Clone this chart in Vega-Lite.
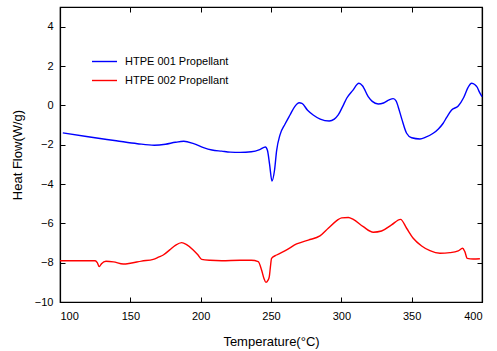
{
  "$schema": "https://vega.github.io/schema/vega-lite/v6.json",
  "width": 422,
  "height": 295,
  "autosize": {"type": "none"},
  "padding": {"left": 60, "top": 7, "right": 15, "bottom": 49},
  "background": "white",
  "config": {
    "view": {"stroke": "black", "strokeWidth": 1.2},
    "font": "Liberation Sans",
    "axis": {"grid": false, "domainColor": "black", "tickColor": "black", "labelColor": "black", "titleColor": "black", "labelFont": "Liberation Sans", "titleFont": "Liberation Sans", "labelFontSize": 11, "titleFontSize": 13, "titleFontWeight": "normal", "tickSize": -5, "domainWidth": 1.2, "tickWidth": 1}
  },
  "data": {"values": [
    {"series":"HTPE 001 Propellant","T":102,"HF":-1.40},
    {"series":"HTPE 001 Propellant","T":120,"HF":-1.6},
    {"series":"HTPE 001 Propellant","T":140,"HF":-1.8},
    {"series":"HTPE 001 Propellant","T":155,"HF":-1.95},
    {"series":"HTPE 001 Propellant","T":167,"HF":-2.03},
    {"series":"HTPE 001 Propellant","T":175,"HF":-1.98},
    {"series":"HTPE 001 Propellant","T":182,"HF":-1.88},
    {"series":"HTPE 001 Propellant","T":188,"HF":-1.83},
    {"series":"HTPE 001 Propellant","T":195,"HF":-1.95},
    {"series":"HTPE 001 Propellant","T":202,"HF":-2.15},
    {"series":"HTPE 001 Propellant","T":208,"HF":-2.27},
    {"series":"HTPE 001 Propellant","T":215,"HF":-2.33},
    {"series":"HTPE 001 Propellant","T":221,"HF":-2.38},
    {"series":"HTPE 001 Propellant","T":228,"HF":-2.39},
    {"series":"HTPE 001 Propellant","T":236,"HF":-2.36},
    {"series":"HTPE 001 Propellant","T":242,"HF":-2.25},
    {"series":"HTPE 001 Propellant","T":246,"HF":-2.12},
    {"series":"HTPE 001 Propellant","T":247.5,"HF":-2.3},
    {"series":"HTPE 001 Propellant","T":249,"HF":-3.0},
    {"series":"HTPE 001 Propellant","T":250.7,"HF":-3.85},
    {"series":"HTPE 001 Propellant","T":252.5,"HF":-3.3},
    {"series":"HTPE 001 Propellant","T":254,"HF":-2.3},
    {"series":"HTPE 001 Propellant","T":256.4,"HF":-1.5},
    {"series":"HTPE 001 Propellant","T":260,"HF":-0.95},
    {"series":"HTPE 001 Propellant","T":263.5,"HF":-0.49},
    {"series":"HTPE 001 Propellant","T":267,"HF":-0.05},
    {"series":"HTPE 001 Propellant","T":270,"HF":0.13},
    {"series":"HTPE 001 Propellant","T":272,"HF":0.1},
    {"series":"HTPE 001 Propellant","T":276,"HF":-0.25},
    {"series":"HTPE 001 Propellant","T":280,"HF":-0.49},
    {"series":"HTPE 001 Propellant","T":285,"HF":-0.7},
    {"series":"HTPE 001 Propellant","T":291.4,"HF":-0.8},
    {"series":"HTPE 001 Propellant","T":295,"HF":-0.7},
    {"series":"HTPE 001 Propellant","T":297.8,"HF":-0.49},
    {"series":"HTPE 001 Propellant","T":301,"HF":-0.05},
    {"series":"HTPE 001 Propellant","T":303.8,"HF":0.36},
    {"series":"HTPE 001 Propellant","T":308,"HF":0.75},
    {"series":"HTPE 001 Propellant","T":312.5,"HF":1.12},
    {"series":"HTPE 001 Propellant","T":315,"HF":1.0},
    {"series":"HTPE 001 Propellant","T":319.1,"HF":0.44},
    {"series":"HTPE 001 Propellant","T":322,"HF":0.2},
    {"series":"HTPE 001 Propellant","T":326.2,"HF":0.07},
    {"series":"HTPE 001 Propellant","T":330,"HF":0.12},
    {"series":"HTPE 001 Propellant","T":334,"HF":0.28},
    {"series":"HTPE 001 Propellant","T":336.9,"HF":0.34},
    {"series":"HTPE 001 Propellant","T":339,"HF":0.22},
    {"series":"HTPE 001 Propellant","T":340.4,"HF":-0.07},
    {"series":"HTPE 001 Propellant","T":343,"HF":-0.7},
    {"series":"HTPE 001 Propellant","T":346.4,"HF":-1.42},
    {"series":"HTPE 001 Propellant","T":350,"HF":-1.65},
    {"series":"HTPE 001 Propellant","T":355.9,"HF":-1.71},
    {"series":"HTPE 001 Propellant","T":360,"HF":-1.62},
    {"series":"HTPE 001 Propellant","T":365.3,"HF":-1.42},
    {"series":"HTPE 001 Propellant","T":369,"HF":-1.2},
    {"series":"HTPE 001 Propellant","T":372.4,"HF":-0.91},
    {"series":"HTPE 001 Propellant","T":375,"HF":-0.6},
    {"series":"HTPE 001 Propellant","T":378.4,"HF":-0.24},
    {"series":"HTPE 001 Propellant","T":383.1,"HF":-0.03},
    {"series":"HTPE 001 Propellant","T":387,"HF":0.4},
    {"series":"HTPE 001 Propellant","T":390,"HF":0.9},
    {"series":"HTPE 001 Propellant","T":392.6,"HF":1.12},
    {"series":"HTPE 001 Propellant","T":395,"HF":1.05},
    {"series":"HTPE 001 Propellant","T":396.6,"HF":0.92},
    {"series":"HTPE 001 Propellant","T":398,"HF":0.7},
    {"series":"HTPE 001 Propellant","T":400,"HF":0.44},
    {"series":"HTPE 002 Propellant","T":100,"HF":-7.9},
    {"series":"HTPE 002 Propellant","T":110,"HF":-7.9},
    {"series":"HTPE 002 Propellant","T":120,"HF":-7.9},
    {"series":"HTPE 002 Propellant","T":125,"HF":-7.9},
    {"series":"HTPE 002 Propellant","T":126.5,"HF":-8.0},
    {"series":"HTPE 002 Propellant","T":127.9,"HF":-8.2},
    {"series":"HTPE 002 Propellant","T":129.5,"HF":-8.05},
    {"series":"HTPE 002 Propellant","T":132.7,"HF":-7.93},
    {"series":"HTPE 002 Propellant","T":138,"HF":-7.96},
    {"series":"HTPE 002 Propellant","T":145,"HF":-8.07},
    {"series":"HTPE 002 Propellant","T":150,"HF":-8.03},
    {"series":"HTPE 002 Propellant","T":158,"HF":-7.92},
    {"series":"HTPE 002 Propellant","T":166.3,"HF":-7.83},
    {"series":"HTPE 002 Propellant","T":170,"HF":-7.72},
    {"series":"HTPE 002 Propellant","T":173.4,"HF":-7.61},
    {"series":"HTPE 002 Propellant","T":178,"HF":-7.35},
    {"series":"HTPE 002 Propellant","T":182,"HF":-7.12},
    {"series":"HTPE 002 Propellant","T":186.5,"HF":-6.98},
    {"series":"HTPE 002 Propellant","T":190,"HF":-7.08},
    {"series":"HTPE 002 Propellant","T":194.7,"HF":-7.35},
    {"series":"HTPE 002 Propellant","T":198,"HF":-7.6},
    {"series":"HTPE 002 Propellant","T":200.7,"HF":-7.83},
    {"series":"HTPE 002 Propellant","T":206.6,"HF":-7.88},
    {"series":"HTPE 002 Propellant","T":215,"HF":-7.9},
    {"series":"HTPE 002 Propellant","T":228,"HF":-7.88},
    {"series":"HTPE 002 Propellant","T":236,"HF":-7.88},
    {"series":"HTPE 002 Propellant","T":240.9,"HF":-7.95},
    {"series":"HTPE 002 Propellant","T":243.3,"HF":-8.37},
    {"series":"HTPE 002 Propellant","T":245,"HF":-8.8},
    {"series":"HTPE 002 Propellant","T":246.4,"HF":-9.0},
    {"series":"HTPE 002 Propellant","T":247.8,"HF":-8.9},
    {"series":"HTPE 002 Propellant","T":248.8,"HF":-8.71},
    {"series":"HTPE 002 Propellant","T":249.6,"HF":-8.2},
    {"series":"HTPE 002 Propellant","T":250.4,"HF":-7.78},
    {"series":"HTPE 002 Propellant","T":254,"HF":-7.61},
    {"series":"HTPE 002 Propellant","T":261.1,"HF":-7.35},
    {"series":"HTPE 002 Propellant","T":268.2,"HF":-7.05},
    {"series":"HTPE 002 Propellant","T":276.5,"HF":-6.85},
    {"series":"HTPE 002 Propellant","T":284.8,"HF":-6.64},
    {"series":"HTPE 002 Propellant","T":290.7,"HF":-6.25},
    {"series":"HTPE 002 Propellant","T":296.7,"HF":-5.86},
    {"series":"HTPE 002 Propellant","T":300.2,"HF":-5.72},
    {"series":"HTPE 002 Propellant","T":305,"HF":-5.7},
    {"series":"HTPE 002 Propellant","T":308.5,"HF":-5.8},
    {"series":"HTPE 002 Propellant","T":315.6,"HF":-6.17},
    {"series":"HTPE 002 Propellant","T":322.7,"HF":-6.45},
    {"series":"HTPE 002 Propellant","T":328.6,"HF":-6.39},
    {"series":"HTPE 002 Propellant","T":335.7,"HF":-6.08},
    {"series":"HTPE 002 Propellant","T":342.1,"HF":-5.8},
    {"series":"HTPE 002 Propellant","T":346.4,"HF":-6.25},
    {"series":"HTPE 002 Propellant","T":351.1,"HF":-6.76},
    {"series":"HTPE 002 Propellant","T":357.1,"HF":-7.15},
    {"series":"HTPE 002 Propellant","T":363,"HF":-7.39},
    {"series":"HTPE 002 Propellant","T":370.1,"HF":-7.52},
    {"series":"HTPE 002 Propellant","T":377.2,"HF":-7.49},
    {"series":"HTPE 002 Propellant","T":383.1,"HF":-7.4},
    {"series":"HTPE 002 Propellant","T":386.2,"HF":-7.27},
    {"series":"HTPE 002 Propellant","T":387.8,"HF":-7.44},
    {"series":"HTPE 002 Propellant","T":389.5,"HF":-7.78},
    {"series":"HTPE 002 Propellant","T":393.7,"HF":-7.81},
    {"series":"HTPE 002 Propellant","T":398.5,"HF":-7.8}
  ]},
  "layer": [
    {
      "mark": {"type": "line", "strokeWidth": 1.4, "interpolate": "monotone"},
      "encoding": {
        "x": {"field": "T", "type": "quantitative", "scale": {"domain": [100, 400], "nice": false}, "axis": {"values": [100,150,200,250,300,350,400], "title": "Temperature(°C)", "titlePadding": 14, "labelPadding": 13}},
        "y": {"field": "HF", "type": "quantitative", "scale": {"domain": [-10, 5], "nice": false}, "axis": {"values": [-10,-8,-6,-4,-2,0,2,4], "title": "Heat Flow(W/g)", "titlePadding": 10, "labelPadding": 12}},
        "color": {"field": "series", "type": "nominal", "scale": {"domain": ["HTPE 001 Propellant", "HTPE 002 Propellant"], "range": ["#0000ff", "#ff0000"]},
          "legend": {"title": null, "orient": "none", "legendX": 31, "legendY": 41, "symbolType": "stroke", "symbolSize": 625, "symbolStrokeWidth": 1.4, "labelFontSize": 11, "labelFont": "Liberation Sans", "labelColor": "black", "rowPadding": -10, "labelOffset": 7}}
      }
    },
    {
      "mark": {"type": "line", "opacity": 0},
      "encoding": {
        "x": {"field": "T", "type": "quantitative", "axis": {"orient": "top", "values": [100,150,200,250,300,350,400], "labels": false, "title": null}},
        "y": {"field": "HF", "type": "quantitative", "axis": {"orient": "right", "values": [-10,-8,-6,-4,-2,0,2,4], "labels": false, "title": null}},
        "detail": {"field": "series"}
      }
    }
  ],
  "resolve": {"axis": {"x": "independent", "y": "independent"}}
}
